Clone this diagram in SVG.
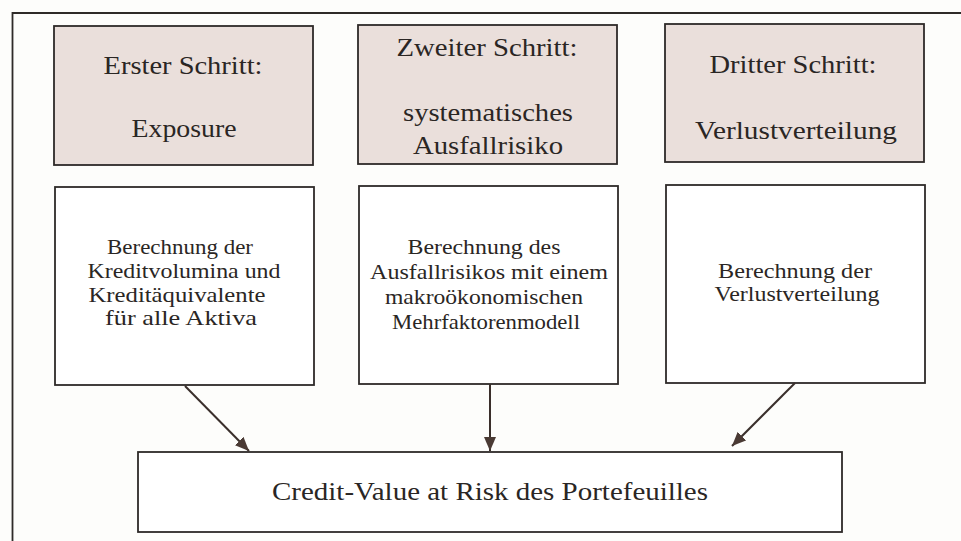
<svg xmlns="http://www.w3.org/2000/svg" width="961" height="541" viewBox="0 0 961 541">
<defs>
<style>
.box{fill:#ffffff;stroke:#2e2a28;stroke-width:1.8}
.step{fill:#eadfdb;stroke:#2e2a28;stroke-width:1.8}
.t{font-family:"Liberation Serif","Times New Roman",serif;fill:#2a2624;text-anchor:middle}
.h{font-size:26px}
.m{font-size:21px}
.b{font-size:25px}
.conn{stroke:#3a2f2b;stroke-width:2;fill:none}
</style>
<marker id="arr" markerUnits="userSpaceOnUse" markerWidth="16" markerHeight="14" refX="14" refY="7" orient="auto">
<path d="M0,1 L14,7 L0,13 z" fill="#4a3a34"/>
</marker>
</defs>
<rect width="961" height="541" fill="#fdfdfb"/>
<path d="M12.5,541 L12.5,13 L961,13" fill="none" stroke="#2e2a28" stroke-width="1.8"/>

<g id="step1">
<rect class="step" x="54" y="26" width="259" height="139"/>
<text class="t h" x="183" y="74" textLength="159" lengthAdjust="spacingAndGlyphs">Erster Schritt:</text>
<text class="t h" x="184" y="137" textLength="105" lengthAdjust="spacingAndGlyphs">Exposure</text>
</g>
<g id="step2">
<rect class="step" x="358" y="25" width="259" height="139"/>
<text class="t h" x="487" y="56" textLength="181" lengthAdjust="spacingAndGlyphs">Zweiter Schritt:</text>
<text class="t h" x="488" y="121" textLength="170" lengthAdjust="spacingAndGlyphs">systematisches</text>
<text class="t h" x="488" y="154" textLength="150" lengthAdjust="spacingAndGlyphs">Ausfallrisiko</text>
</g>
<g id="step3">
<rect class="step" x="665" y="24" width="259" height="138"/>
<text class="t h" x="793" y="73" textLength="167" lengthAdjust="spacingAndGlyphs">Dritter Schritt:</text>
<text class="t h" x="796" y="139" textLength="202" lengthAdjust="spacingAndGlyphs">Verlustverteilung</text>
</g>

<g id="calc1">
<rect class="box" x="55" y="187" width="259" height="198"/>
<text class="t m" x="180" y="254" textLength="146" lengthAdjust="spacingAndGlyphs">Berechnung der</text>
<text class="t m" x="184" y="278" textLength="193" lengthAdjust="spacingAndGlyphs">Kreditvolumina und</text>
<text class="t m" x="177" y="302" textLength="177" lengthAdjust="spacingAndGlyphs">Kreditäquivalente</text>
<text class="t m" x="181" y="325" textLength="152" lengthAdjust="spacingAndGlyphs">für alle Aktiva</text>
</g>
<g id="calc2">
<rect class="box" x="359" y="186" width="259" height="198"/>
<text class="t m" x="484" y="254" textLength="153" lengthAdjust="spacingAndGlyphs">Berechnung des</text>
<text class="t m" x="489" y="279" textLength="238" lengthAdjust="spacingAndGlyphs">Ausfallrisikos mit einem</text>
<text class="t m" x="484" y="304" textLength="198" lengthAdjust="spacingAndGlyphs">makroökonomischen</text>
<text class="t m" x="486" y="329" textLength="188" lengthAdjust="spacingAndGlyphs">Mehrfaktorenmodell</text>
</g>
<g id="calc3">
<rect class="box" x="666" y="185" width="259" height="198"/>
<text class="t m" x="795" y="278" textLength="154" lengthAdjust="spacingAndGlyphs">Berechnung der</text>
<text class="t m" x="797" y="301" textLength="165" lengthAdjust="spacingAndGlyphs">Verlustverteilung</text>
</g>

<g id="result">
<rect class="box" x="138" y="452" width="704" height="80"/>
<text class="t b" x="490" y="500" textLength="436" lengthAdjust="spacingAndGlyphs">Credit-Value at Risk des Portefeuilles</text>
</g>

<g id="connectors">
<line class="conn" x1="185" y1="386" x2="249" y2="451" marker-end="url(#arr)"/>
<line class="conn" x1="490" y1="384" x2="490" y2="451" marker-end="url(#arr)"/>
<line class="conn" x1="795" y1="383" x2="732" y2="446" marker-end="url(#arr)"/>
</g>
</svg>
